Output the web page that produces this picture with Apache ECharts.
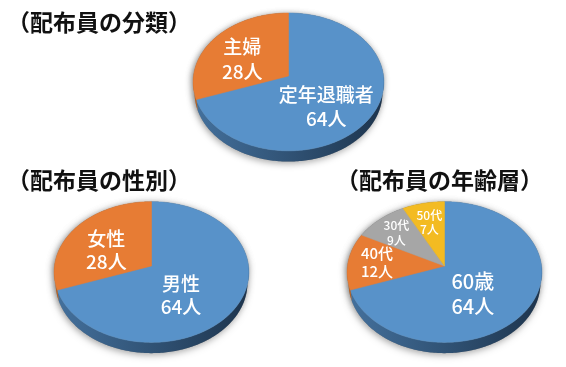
<!DOCTYPE html>
<html>
<head>
<meta charset="utf-8">
<script src="https://cdn.jsdelivr.net/npm/echarts@6/dist/echarts.min.js"></script>
<style>
html,body{margin:0;padding:0;background:#fff;}
#main{width:566px;height:367px;}
</style>
</head>
<body>
<div id="main"></div>
<script>
// ---- data ----
const titles = ['（配布員の分類）', '（配布員の性別）', '（配布員の年齢層）'];
const typeCategories = ['定年退職者', '主婦'];
const typeValues = [64, 28];
const genderCategories = ['男性', '女性'];
const genderValues = [64, 28];
const ageCategories = ['60歳', '40代', '30代', '50代'];
const ageValues = [64, 12, 9, 7];
const unit = '人';

// ---- style / layout ----
const FONT = '"Noto Sans CJK JP", "Noto Sans", sans-serif';
const BLUE = '#5892c9', ORANGE = '#e77c34', GRAY = '#a6a6a6', YELLOW = '#f3bb22';
const SIDE = {};
SIDE[BLUE] = ['#44719d', '#1d344d'];
SIDE[ORANGE] = ['#b8601f', '#8e4512'];
SIDE[GRAY] = ['#7d7d7d', '#5a5a5a'];
SIDE[YELLOW] = ['#c09010', '#8f6a08'];

const SIN_T = 0.72, COS_T = 0.694, DFAC = 8.1, THICK = 16;

const pies = [
  {cats: typeCategories, vals: typeValues, cx: 288.5, cy: 76, R: 95,
   colors: [BLUE, ORANGE], fs: [19, 19], lh: [24, 25], lf: [0.5, 0.6],
   off: [[-2, 11], [-1, 6]]},
  {cats: genderCategories, vals: genderValues, cx: 151.5, cy: 266, R: 97,
   colors: [BLUE, ORANGE], fs: [19, 19], lh: [23, 23], lf: [0.45, 0.6],
   off: [[-7, 11], [1, 8]]},
  {cats: ageCategories, vals: ageValues, cx: 444.5, cy: 266, R: 97,
   colors: [BLUE, ORANGE, GRAY, YELLOW], fs: [20, 15, 12, 12], lh: [25, 18, 15, 14], lf: [0.4, 0.7, 0.7, 0.7],
   off: [[-4, 11], [0, 0], [-2, 0], [0, 1]]}
];

function project(p, theta, r, h) {
  const R = p.R, D = DFAC * R;
  const u = Math.cos(theta) * r, v = Math.sin(theta) * r;
  const s = D / (D + u * COS_T - h * SIN_T);
  return [p.cx + v * s, p.cy - (u * SIN_T + h * COS_T) * s];
}
function arcPts(p, a0, a1, h) {
  const pts = [];
  const n = Math.max(2, Math.ceil(Math.abs(a1 - a0) / (Math.PI / 180)));
  for (let i = 0; i <= n; i++) {
    pts.push(project(p, a0 + (a1 - a0) * i / n, p.R, h));
  }
  return pts;
}

function makeSeries(p, pi) {
  const total = p.vals.reduce((a, b) => a + b, 0);
  const cum = [];
  let acc = 0;
  p.vals.forEach(v => { cum.push(acc); acc += v; });
  return {
    type: 'custom',
    coordinateSystem: 'none',
    silent: true,
    data: p.vals.map((v, i) => ({name: p.cats[i], value: [v]})),
    renderItem: function (params, api) {
      const i = params.dataIndex;
      const val = api.value(0);
      const a0 = cum[i] / total * Math.PI * 2;
      const a1 = (cum[i] + val) / total * Math.PI * 2;
      const color = p.colors[i];
      const children = [];
      const grad = (c) => new echarts.graphic.LinearGradient(p.cx - p.R, 0, p.cx + p.R, 0,
        [{offset: 0, color: SIDE[c][0]}, {offset: 1, color: SIDE[c][1]}], true);
      if (i === 0) {
        const topAll = arcPts(p, 0, Math.PI * 2, 0);
        const front = arcPts(p, Math.PI / 2, Math.PI * 1.5, -THICK);
        const sil = arcPts(p, -Math.PI / 2, Math.PI / 2, 0).concat(front);
        const sh = {fill: '#888', shadowBlur: 7, shadowColor: 'rgba(0,0,0,0.35)', shadowOffsetX: -1, shadowOffsetY: 2};
        children.push({type: 'polygon', shape: {points: topAll}, style: sh});
        children.push({type: 'polygon', shape: {points: sil}, style: sh});
      }
      const s0 = Math.max(a0, Math.PI / 2), s1 = Math.min(a1, Math.PI * 1.5);
      if (s1 > s0) {
        const topEdge = arcPts(p, s0, s1, 0);
        const botEdge = arcPts(p, s1, s0, -THICK);
        children.push({type: 'polygon', shape: {points: topEdge.concat(botEdge)}, style: {fill: grad(color)}});
      }
      const face = [project(p, 0, 0, 0)].concat(arcPts(p, a0, a1, 0));
      children.push({type: 'polygon', shape: {points: face}, style: {fill: color, stroke: color, lineWidth: 0.5}});
      const mid = (a0 + a1) / 2;
      const lp = project(p, mid, p.R * p.lf[i], 0);
      children.push({
        type: 'text',
        style: {
          text: p.cats[i] + '\n' + val + unit,
          x: lp[0] + p.off[i][0], y: lp[1] + p.off[i][1],
          fill: '#ffffff',
          fontSize: p.fs[i], fontFamily: FONT, fontWeight: 500,
          lineHeight: p.lh[i],
          align: 'center', verticalAlign: 'middle'
        }
      });
      return {type: 'group', children: children};
    }
  };
}

const chart = echarts.init(document.getElementById('main'), null, {renderer: 'canvas'});
const titleStyle = {fontSize: 23, fontWeight: 'bold', fontFamily: FONT, color: '#111111'};
chart.setOption({
  backgroundColor: '#ffffff',
  animation: false,
  title: [
    {text: titles[0], left: 7, top: 11, padding: 0, textStyle: titleStyle},
    {text: titles[1], left: 7, top: 169, padding: 0, textStyle: titleStyle},
    {text: titles[2], left: 336, top: 169, padding: 0, textStyle: titleStyle}
  ],
  series: pies.map(makeSeries)
});
</script>
</body>
</html>
